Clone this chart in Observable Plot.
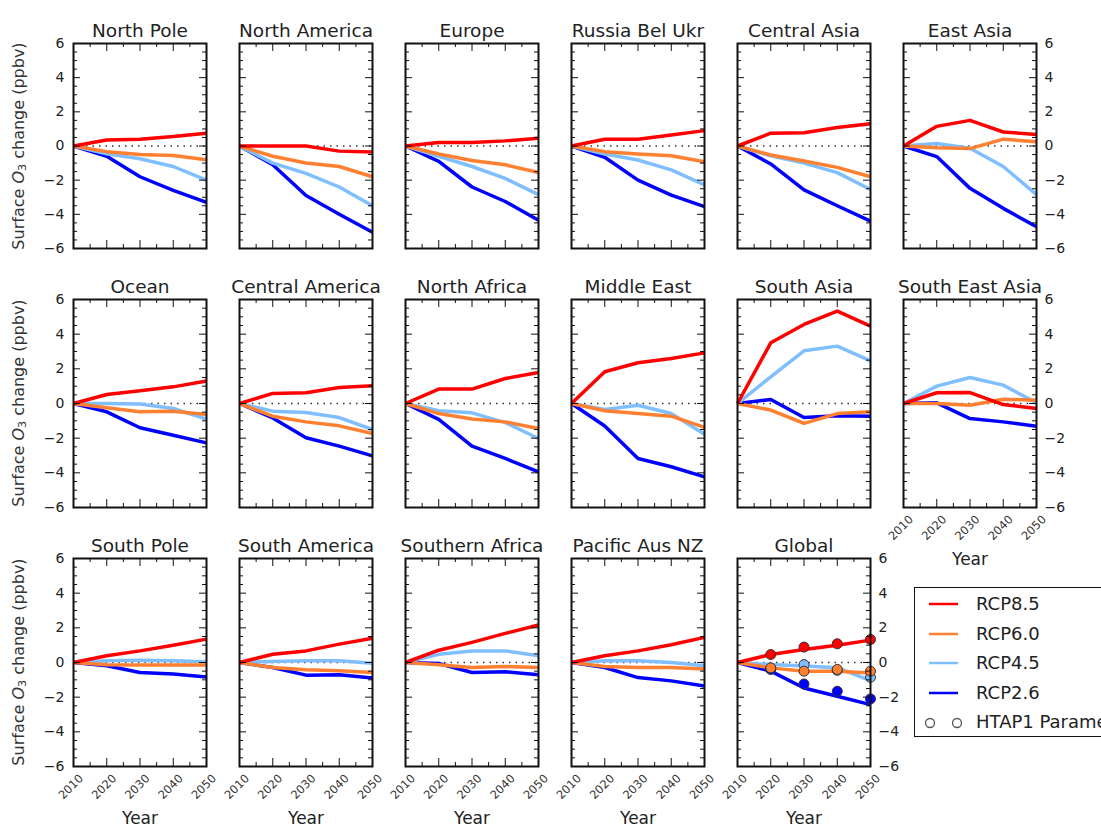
<!DOCTYPE html>
<html>
<head>
<meta charset="utf-8">
<script src="https://cdn.jsdelivr.net/npm/d3@7"></script>
<script src="https://cdn.jsdelivr.net/npm/@observablehq/plot@0.6"></script>
<style>
  body { margin: 0; background: #fff; }
  #fig { position: relative; width: 1101px; height: 834px; overflow: hidden; background: #fff;
         font-family: "DejaVu Sans", sans-serif; color: #222; }
  #fig svg { position: absolute; background: transparent !important; overflow: visible; max-width: none !important; }
  .ylab { position: absolute; white-space: nowrap; font-size: 16px; color: #333;
          transform: translate(-50%, -50%) rotate(-90deg); }
  .ylab sub { font-size: 0.7em; vertical-align: -0.25em; }
  #legend { position: absolute; left: 914px; top: 587px; width: 260px; height: 150px;
            border: 1.5px solid #111; background: #fff; box-sizing: border-box; }
  #legend .row { position: absolute; left: 0; height: 26px; font-size: 18px; color: #222; line-height: 26px; }
  #legend .row svg { position: absolute; left: 10px; top: 0; }
  #legend .row span { position: absolute; left: 61px; top: 0; white-space: nowrap; }
</style>
</head>
<body>
<div id="fig"></div>
<script>
// ---------------- data ----------------
const years = [2010, 2020, 2030, 2040, 2050];
const regions = ["North Pole", "North America", "Europe", "Russia Bel Ukr", "Central Asia", "East Asia",
                 "Ocean", "Central America", "North Africa", "Middle East", "South Asia", "South East Asia",
                 "South Pole", "South America", "Southern Africa", "Pacific Aus NZ", "Global"];
const scenarios = ["RCP8.5", "RCP6.0", "RCP4.5", "RCP2.6"];
const scenarioColors = ["#ff0000", "#ff8030", "#80bfff", "#0000ff"];

// surface O3 change (ppbv) per region, values at 2010..2050
const rcp85 = [
  [0, 0.35, 0.4, 0.55, 0.75],
  [0, 0.0, 0.0, -0.3, -0.35],
  [0, 0.2, 0.2, 0.3, 0.45],
  [0, 0.4, 0.4, 0.65, 0.9],
  [0, 0.75, 0.78, 1.08, 1.3],
  [0, 1.15, 1.5, 0.82, 0.68],
  [0, 0.52, 0.73, 0.96, 1.3],
  [0, 0.58, 0.62, 0.92, 1.02],
  [0, 0.83, 0.83, 1.44, 1.79],
  [0, 1.83, 2.35, 2.6, 2.92],
  [0, 3.5, 4.56, 5.33, 4.46],
  [0, 0.62, 0.63, -0.06, -0.29],
  [0, 0.39, 0.67, 1.0, 1.35],
  [0, 0.48, 0.67, 1.06, 1.4],
  [0, 0.71, 1.16, 1.68, 2.16],
  [0, 0.39, 0.67, 1.02, 1.45],
  [0, 0.46, 0.75, 1.0, 1.29]
];
const rcp60 = [
  [0, -0.33, -0.5, -0.55, -0.8],
  [0, -0.6, -1.0, -1.2, -1.8],
  [0, -0.47, -0.85, -1.1, -1.55],
  [0, -0.33, -0.47, -0.57, -0.92],
  [0, -0.53, -0.88, -1.25, -1.8],
  [0, -0.1, -0.15, 0.4, 0.25],
  [0, -0.25, -0.48, -0.45, -0.63],
  [0, -0.73, -1.06, -1.29, -1.73],
  [0, -0.58, -0.9, -1.06, -1.44],
  [0, -0.42, -0.58, -0.73, -1.38],
  [0, -0.38, -1.15, -0.58, -0.48],
  [0, 0.0, -0.1, 0.25, 0.19],
  [0, -0.13, -0.15, -0.15, -0.15],
  [0, -0.29, -0.42, -0.48, -0.58],
  [0, -0.13, -0.29, -0.23, -0.29],
  [0, -0.23, -0.29, -0.29, -0.38],
  [0, -0.31, -0.5, -0.5, -0.6]
];
const rcp45 = [
  [0, -0.45, -0.75, -1.2, -2.0],
  [0, -1.0, -1.6, -2.4, -3.5],
  [0, -0.6, -1.2, -1.9, -2.85],
  [0, -0.47, -0.82, -1.4, -2.28],
  [0, -0.58, -1.0, -1.56, -2.55],
  [0, 0.15, -0.13, -1.2, -2.85],
  [0, 0.0, -0.03, -0.29, -0.9],
  [0, -0.44, -0.52, -0.81, -1.5],
  [0, -0.42, -0.54, -1.1, -2.02],
  [0, -0.35, -0.1, -0.58, -1.77],
  [0, 1.54, 3.04, 3.31, 2.46],
  [0, 1.0, 1.5, 1.06, 0.04],
  [0, 0.1, 0.13, 0.1, 0.04],
  [0, 0.06, 0.1, 0.1, -0.04],
  [0, 0.48, 0.67, 0.67, 0.39],
  [0, 0.1, 0.1, 0.0, -0.19],
  [0, -0.12, -0.2, -0.3, -1.04]
];
const rcp26 = [
  [0, -0.6, -1.8, -2.6, -3.3],
  [0, -1.1, -2.9, -4.0, -5.05],
  [0, -0.9, -2.4, -3.25, -4.35],
  [0, -0.66, -2.0, -2.87, -3.55],
  [0, -1.05, -2.57, -3.5, -4.4],
  [0, -0.62, -2.48, -3.65, -4.73],
  [0, -0.48, -1.4, -1.83, -2.27],
  [0, -0.83, -1.98, -2.46, -3.02],
  [0, -0.92, -2.46, -3.17, -3.94],
  [0, -1.3, -3.17, -3.65, -4.23],
  [0, 0.23, -0.81, -0.71, -0.73],
  [0, 0.04, -0.87, -1.06, -1.31],
  [0, -0.19, -0.58, -0.67, -0.83],
  [0, -0.29, -0.73, -0.71, -0.9],
  [0, -0.06, -0.58, -0.54, -0.71],
  [0, -0.29, -0.87, -1.06, -1.35],
  [0, -0.5, -1.47, -1.95, -2.43]
];

// HTAP1 parameterization (Global panel only)
const htapYears = [2020, 2030, 2040, 2050];
const htap85 = [0.46, 0.89, 1.08, 1.33];
const htap60 = [-0.31, -0.5, -0.4, -0.5];
const htap45 = [-0.35, -0.12, -0.45, -0.85];
const htap26 = [-0.4, -1.24, -1.66, -2.1];

// ticks
const yMajorTicks = [-6, -4, -2, 0, 2, 4, 6];
const yMinorTicks = [-5.5, -5, -4.5, -3.5, -3, -2.5, -1.5, -1, -0.5, 0.5, 1, 1.5, 2.5, 3, 3.5, 4.5, 5, 5.5];
const xMajorTicks = [2010, 2020, 2030, 2040, 2050];
const xMinorTicks = [2015, 2025, 2035, 2045];

// ---------------- layout ----------------
const colX = [73, 239, 405, 571, 737, 903];
const rowY = [43, 299, 558];
const rowH = [205, 208, 208];
const PW = 133;
const ML = 50, MR = 50, MT = 40, MB = 80;

const fig = document.getElementById("fig");
const seriesByScenario = {"RCP8.5": rcp85, "RCP6.0": rcp60, "RCP4.5": rcp45, "RCP2.6": rcp26};
const htapByScenario = {"RCP8.5": htap85, "RCP6.0": htap60, "RCP4.5": htap45, "RCP2.6": htap26};
const drawOrder = ["RCP2.6", "RCP4.5", "RCP6.0", "RCP8.5"];

regions.forEach((name, i) => {
  const row = Math.floor(i / 6), col = i % 6;
  const W = PW, H = rowH[row];
  const isGlobal = name === "Global";
  const leftLabels = col === 0;
  const rightLabels = col === 5 || isGlobal;
  const bottomLabels = row === 2 || i === 11;

  const data = [];
  drawOrder.forEach(s => years.forEach((yr, j) =>
    data.push({year: yr, value: seriesByScenario[s][i][j], scenario: s})));

  const marks = [
    Plot.ruleY([0], {stroke: "#333", strokeWidth: 1.5, strokeDasharray: "1.5,5"}),
    Plot.line(data, {x: "year", y: "value", z: "scenario", stroke: "scenario",
                     strokeWidth: 3.5, strokeLinejoin: "round", strokeLinecap: "butt"})
  ];

  if (isGlobal) {
    const pts = [];
    ["RCP4.5", "RCP2.6", "RCP6.0", "RCP8.5"].forEach(s => htapYears.forEach((yr, j) =>
      pts.push({year: yr, value: htapByScenario[s][j], scenario: s})));
    marks.push(Plot.dot(pts, {x: "year", y: "value", fill: "scenario", stroke: "#333", strokeWidth: 1, r: 5}));
  }

  // inward ticks on all four sides
  marks.push(
    Plot.ruleY(yMajorTicks, {y: d => d, stroke: "#111", strokeWidth: 1, insetRight: W - 7}),
    Plot.ruleY(yMajorTicks, {y: d => d, stroke: "#111", strokeWidth: 1, insetLeft: W - 7}),
    Plot.ruleY(yMinorTicks, {y: d => d, stroke: "#111", strokeWidth: 1, insetRight: W - 4}),
    Plot.ruleY(yMinorTicks, {y: d => d, stroke: "#111", strokeWidth: 1, insetLeft: W - 4}),
    Plot.ruleX(xMajorTicks, {x: d => d, stroke: "#111", strokeWidth: 1, insetTop: H - 8}),
    Plot.ruleX(xMajorTicks, {x: d => d, stroke: "#111", strokeWidth: 1, insetBottom: H - 8}),
    Plot.ruleX(xMinorTicks, {x: d => d, stroke: "#111", strokeWidth: 1, insetTop: H - 4}),
    Plot.ruleX(xMinorTicks, {x: d => d, stroke: "#111", strokeWidth: 1, insetBottom: H - 4}),
    Plot.frame({stroke: "#111", strokeWidth: 2}),
    Plot.text([name], {text: d => d, frameAnchor: "top", lineAnchor: "bottom", dy: -7,
                       fontSize: 18.5, fill: "#222"})
  );

  if (leftLabels) marks.push(Plot.axisY(yMajorTicks, {anchor: "left", label: null, tickSize: 0, tickPadding: 9, fontSize: 14}));
  if (rightLabels) marks.push(Plot.axisY(yMajorTicks, {anchor: "right", label: null, tickSize: 0, tickPadding: 8, fontSize: 14}));
  if (bottomLabels) {
    marks.push(
      Plot.text(xMajorTicks, {x: d => d, text: d => String(d), frameAnchor: "bottom", dy: 23,
                              rotate: -45, fontSize: 11.5, fill: "#333"}),
      Plot.text(["Year"], {text: d => d, frameAnchor: "bottom", dy: 57, fontSize: 17, fill: "#222"})
    );
  }

  const svg = Plot.plot({
    width: W + ML + MR, height: H + MT + MB,
    marginLeft: ML, marginRight: MR, marginTop: MT, marginBottom: MB,
    x: {domain: [2010, 2050], axis: null},
    y: {domain: [-6, 6], axis: null},
    color: {domain: scenarios, range: scenarioColors},
    style: {background: "transparent", color: "#222", fontFamily: "DejaVu Sans, sans-serif", overflow: "visible"},
    marks
  });
  svg.style.left = (colX[col] - ML) + "px";
  svg.style.top = (rowY[row] - MT) + "px";
  fig.appendChild(svg);
});

// y axis titles
rowY.forEach((t, r) => {
  const d = document.createElement("div");
  d.className = "ylab";
  d.style.left = "19px";
  d.style.top = (t + rowH[r] / 2) + "px";
  d.innerHTML = 'Surface <i>O</i><sub>3</sub> change (ppbv)';
  fig.appendChild(d);
});

// legend
const legend = document.createElement("div");
legend.id = "legend";
const legendRows = scenarios.map((s, k) => ({label: s, color: scenarioColors[k], kind: "line"}))
  .concat([{label: "HTAP1 Parameterization", kind: "circle"}]);
legendRows.forEach((e, k) => {
  const r = document.createElement("div");
  r.className = "row";
  r.style.top = (3 + k * 29.5) + "px";
  r.style.width = "260px";
  const sample = e.kind === "line"
    ? `<svg width="40" height="26"><line x1="4" x2="33" y1="13" y2="13" stroke="${e.color}" stroke-width="2.5"/></svg>`
    : `<svg width="40" height="26"><circle cx="5" cy="14" r="4.5" fill="none" stroke="#555" stroke-width="1.3"/><circle cx="32" cy="14" r="4.5" fill="none" stroke="#555" stroke-width="1.3"/></svg>`;
  r.innerHTML = sample + `<span>${e.label}</span>`;
  legend.appendChild(r);
});
fig.appendChild(legend);
</script>
</body>
</html>
